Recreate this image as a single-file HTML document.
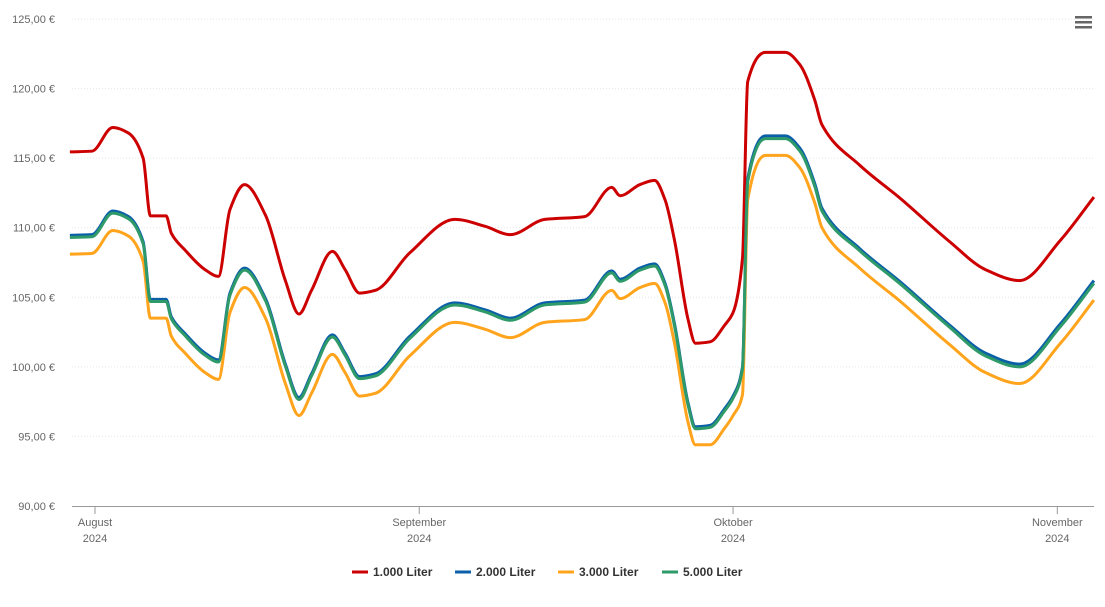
<!DOCTYPE html>
<html><head><meta charset="utf-8">
<style>
body{margin:0;background:#fff;font-family:"Liberation Sans",sans-serif;}
svg text{font-family:"Liberation Sans",sans-serif;}
</style></head>
<body>
<svg id="chart" width="1105" height="602" xmlns="http://www.w3.org/2000/svg">
<g id="grid"></g>
<g id="yaxis"></g>
<g id="xaxis"></g>
<g id="series"></g>
<g id="legend"></g>
<g>
<rect x="1075" y="16" width="17" height="2.5" fill="#666"/>
<rect x="1075" y="21" width="17" height="2.5" fill="#666"/>
<rect x="1075" y="26" width="17" height="2.5" fill="#666"/>
</g>
</svg>
<script>
const days=[-2.4,-0.3,1.7,3.2,4.6,5.3,6.8,7.3,8.6,10.5,11.8,12.9,14.3,16.3,18.2,19.5,20.7,22.7,23.9,25.3,26.8,30.1,34.4,37.3,39.7,43.0,46.8,49.4,50.2,52.1,53.5,54.5,55.4,56.7,57.4,58.8,60.2,61.0,61.9,62.4,64.1,66.0,67.4,68.8,69.5,73.1,77.0,81.7,85.1,88.4,92.3,95.5];
const s1000=[115.45,115.5,117.2,116.8,115.0,110.85,110.85,109.6,108.4,107.0,106.5,111.3,113.1,110.9,106.2,103.8,105.5,108.3,107.0,105.3,105.5,108.2,110.6,110.1,109.5,110.6,110.8,112.9,112.3,113.1,113.4,112.0,109.1,103.4,101.7,101.8,103.0,103.9,107.8,120.5,122.6,122.6,121.7,119.2,117.4,114.5,112.1,109.0,107.0,106.2,109.1,112.2];
const s2000=[109.45,109.5,111.2,110.8,109.0,104.85,104.85,103.6,102.4,101.0,100.5,105.3,107.1,104.9,100.2,97.8,99.5,102.3,101.0,99.3,99.5,102.2,104.6,104.1,103.5,104.6,104.8,106.9,106.3,107.1,107.4,106.0,103.1,97.4,95.7,95.8,97.0,97.9,100.0,113.5,116.6,116.6,115.7,113.2,111.4,108.5,106.1,103.0,101.0,100.2,103.1,106.2];
const s3000=[108.1,108.15,109.8,109.4,107.6,103.5,103.5,102.2,101.0,99.6,99.1,103.9,105.7,103.5,98.8,96.5,98.1,100.9,99.6,97.9,98.1,100.8,103.2,102.7,102.1,103.2,103.4,105.5,104.9,105.7,106.0,104.6,101.7,96.0,94.4,94.4,95.6,96.5,98.0,112.0,115.2,115.2,114.3,111.8,110.0,107.1,104.7,101.6,99.6,98.8,101.7,104.8];
const s5000=[109.3,109.35,111.05,110.65,108.85,104.7,104.7,103.45,102.25,100.85,100.35,105.15,106.95,104.75,100.05,97.65,99.35,102.15,100.85,99.15,99.35,102.05,104.45,103.95,103.35,104.45,104.65,106.75,106.15,106.95,107.25,105.85,102.95,97.25,95.55,95.65,96.85,97.75,99.85,113.3,116.4,116.4,115.5,113.0,111.2,108.35,105.95,102.85,100.8,100.0,102.9,106.0];
const seriesNames=["1.000 Liter","2.000 Liter","3.000 Liter","5.000 Liter"];
const yTicks=[90,95,100,105,110,115,120,125];
const yTickLabels=["90,00 €","95,00 €","100,00 €","105,00 €","110,00 €","115,00 €","120,00 €","125,00 €"];
const xTickDays=[0,31,61,92];
const xTickMonths=["August","September","Oktober","November"];
const xTickYears=["2024","2024","2024","2024"];

const colors=["#cc0000","#0a5fa8","#ffa41c","#2e9a6a"];
const NS="http://www.w3.org/2000/svg";
const X0=72,X1=1094,Y0=506,Y1=19;
function xs(d){return 95+d*10.46;}
function ys(v){return Y0-(v-90)*(Y0-Y1)/35;}
function mk(tag,attrs,parent){const e=document.createElementNS(NS,tag);for(const k in attrs)e.setAttribute(k,attrs[k]);parent.appendChild(e);return e;}

const grid=document.getElementById('grid'),yax=document.getElementById('yaxis'),xax=document.getElementById('xaxis');
yTicks.forEach((t,i)=>{
  if(i>0){const l=mk('line',{x1:X0,x2:X1,y1:ys(t),y2:ys(t),stroke:'#e6e6e6','stroke-dasharray':'1,2'},grid);
  
  }
  const tx=mk('text',{x:55,y:ys(t)+4,'text-anchor':'end','font-size':'11',fill:'#666'},yax);
  tx.textContent=yTickLabels[i];
  
  
});
const axl=mk('line',{x1:X0,x2:X1,y1:Y0+0.5,y2:Y0+0.5,stroke:'#999'},xax);


xTickDays.forEach((d,i)=>{
  const x=xs(d);
  const tk=mk('line',{x1:x,x2:x,y1:Y0,y2:Y0+8,stroke:'#999'},xax);
  
  
  const t1=mk('text',{x:x,y:526,'text-anchor':'middle','font-size':'11',fill:'#666'},xax);
  t1.textContent=xTickMonths[i];
  
  
  const t2=mk('text',{x:x,y:542,'text-anchor':'middle','font-size':'11',fill:'#666'},xax);
  t2.textContent=xTickYears[i];
  
  
});
function monoPath(px,py){
  const n=px.length,dx=[],m=[],t=[];
  for(let i=0;i<n-1;i++){dx.push(px[i+1]-px[i]);m.push((py[i+1]-py[i])/dx[i]);}
  t[0]=m[0];t[n-1]=m[n-2];
  for(let i=1;i<n-1;i++){t[i]=(m[i-1]*m[i]<=0)?0:3*(dx[i-1]+dx[i])/((2*dx[i]+dx[i-1])/m[i-1]+(dx[i]+2*dx[i-1])/m[i]);}
  let d='M'+px[0]+','+py[0];
  for(let i=0;i<n-1;i++){const h=dx[i]/3;d+=' C'+(px[i]+h)+','+(py[i]+t[i]*h)+' '+(px[i+1]-h)+','+(py[i+1]-t[i+1]*h)+' '+px[i+1]+','+py[i+1];}
  return d;
}
const sg=document.getElementById('series');
const allS=[s1000,s2000,s3000,s5000];
const px=days.map(xs);
allS.forEach((s,k)=>{
  const p=mk('path',{d:monoPath(px,s.map(ys)),fill:'none',stroke:colors[k],'stroke-width':3,'stroke-linejoin':'round'},sg);
  
  
});
const lg=document.getElementById('legend');
const lx=[352,455,558,662];
seriesNames.forEach((nm,k)=>{
  const g=mk('g',{},lg);
  
  
  mk('line',{x1:lx[k],x2:lx[k]+16,y1:572,y2:572,stroke:colors[k],'stroke-width':3},g);
  const t=mk('text',{x:lx[k]+21,y:576,'font-size':'12','font-weight':'bold',fill:'#333'},g);
  t.textContent=nm;
});
</script>
</body></html>
